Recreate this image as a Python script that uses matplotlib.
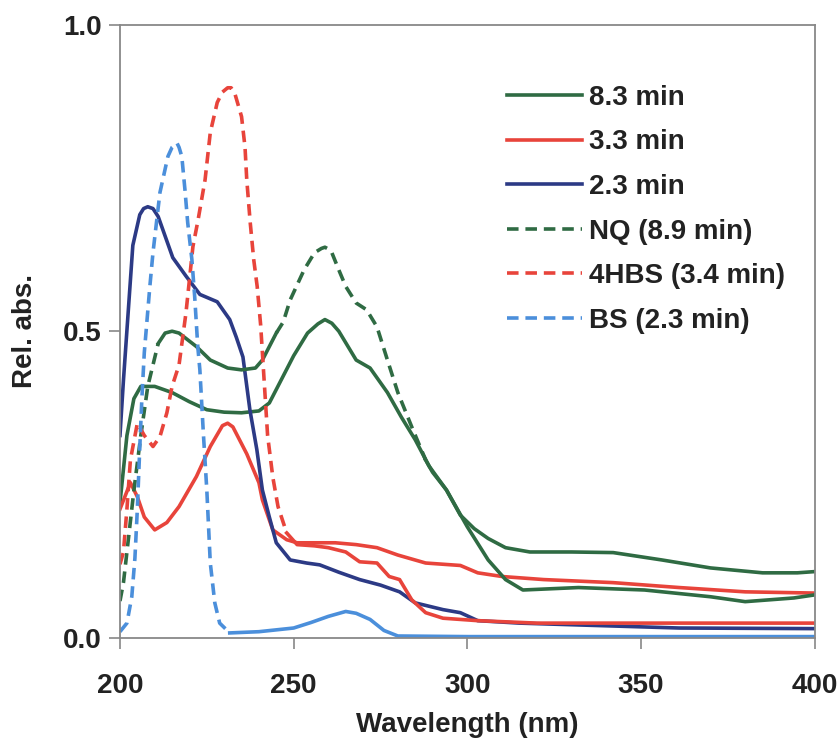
import numpy as np
import matplotlib
matplotlib.use('Agg')
from matplotlib import pyplot as plt
from matplotlib.ticker import FormatStrFormatter

# Sample spectra (solid)
wl_83 = [200, 202, 204, 206, 210, 215, 220, 225, 230, 235, 240, 243, 246, 250, 254, 257, 259, 261, 263,
         268, 272, 277, 281, 285, 289, 294, 298, 302, 306, 311, 318, 330, 342, 356, 370, 385, 395, 400]
abs_83 = [0.22, 0.33, 0.39, 0.41, 0.41, 0.40, 0.385, 0.372, 0.368, 0.367, 0.37, 0.383, 0.416, 0.46, 0.497,
          0.512, 0.519, 0.513, 0.50, 0.453, 0.44, 0.40, 0.36, 0.323, 0.28, 0.241, 0.20, 0.178, 0.162,
          0.147, 0.14, 0.14, 0.139, 0.127, 0.114, 0.106, 0.106, 0.108]

wl_33 = [200, 203, 205, 207, 210, 213.5, 217, 222, 226, 229.5, 231, 232.5, 236.5, 240, 241, 244, 248, 251,
         256, 262, 268, 274, 280, 288, 298, 303, 310, 322, 342, 361, 380, 400]
abs_33 = [0.21, 0.253, 0.23, 0.197, 0.176, 0.188, 0.214, 0.263, 0.312, 0.346, 0.35, 0.344, 0.30, 0.253,
          0.225, 0.176, 0.16, 0.155, 0.155, 0.155, 0.152, 0.147, 0.135, 0.122, 0.118, 0.106, 0.10, 0.095,
          0.09, 0.082, 0.075, 0.073]

wl_23 = [200, 201, 203.7, 205.7, 206.8, 208, 209.5, 211, 215.2, 219, 223, 228, 231.6, 233.5, 235.4, 237.4,
         239.4, 241, 243, 245, 249, 253.7, 257.5, 263, 269, 275, 280.5, 285, 293, 298, 303, 315, 332, 361, 400]
abs_23 = [0.33, 0.42, 0.64, 0.69, 0.70, 0.703, 0.70, 0.687, 0.62, 0.59, 0.56, 0.548, 0.519, 0.49, 0.458,
          0.372, 0.307, 0.241, 0.197, 0.155, 0.127, 0.122, 0.119, 0.107, 0.095, 0.086, 0.075, 0.057, 0.046,
          0.041, 0.028, 0.024, 0.021, 0.016, 0.015]

# Standards (dashed)
wl_nq = [200, 201, 202, 203, 204, 206, 208, 211, 213, 215, 217, 222, 226, 231, 235, 239, 241, 243, 245,
         247, 249, 253, 256, 258, 259, 260, 261, 263, 265, 268, 271, 274, 277, 280, 284, 288, 290, 294, 300,
         306, 311, 316, 332, 351, 370, 380, 394, 400]
abs_nq = [0.06, 0.09, 0.14, 0.19, 0.24, 0.33, 0.41, 0.48, 0.497, 0.50, 0.497, 0.475, 0.453, 0.44, 0.437,
          0.44, 0.453, 0.475, 0.497, 0.515, 0.551, 0.60, 0.628, 0.635, 0.637, 0.634, 0.628, 0.60, 0.573,
          0.546, 0.535, 0.507, 0.453, 0.40, 0.344, 0.29, 0.27, 0.241, 0.181, 0.127, 0.095, 0.078, 0.082,
          0.078, 0.067, 0.059, 0.065, 0.07]

wl_4hbs = [200, 201, 202, 203, 205, 207, 209.5, 211.5, 213.5, 215, 217, 219, 221, 222.5, 224.5, 226, 228,
           229.5, 231, 232, 233, 235, 236, 236.5, 237.5, 238.5, 239.5, 240.5, 241.5, 242.5, 244, 245.5, 248,
           251, 256, 260, 265, 269, 274, 277.5, 280.5, 284, 288, 293, 303, 320, 340, 360, 380, 400]
abs_4hbs = [0.12, 0.14, 0.21, 0.29, 0.35, 0.33, 0.312, 0.328, 0.367, 0.41, 0.445, 0.53, 0.638, 0.682,
            0.747, 0.824, 0.873, 0.89, 0.897, 0.897, 0.889, 0.85, 0.80, 0.747, 0.677, 0.617, 0.573, 0.51,
            0.42, 0.33, 0.262, 0.214, 0.171, 0.152, 0.15, 0.147, 0.14, 0.124, 0.122, 0.10, 0.095, 0.062,
            0.041, 0.032, 0.028, 0.024, 0.024, 0.024, 0.024, 0.024]

wl_bs = [200, 202, 203.4, 204.3, 205, 205.7, 206.3, 207, 208.6, 209.5, 211.5, 213.8, 215, 216.4, 217,
         217.8, 218.7, 219.5, 220.7, 221.5, 222.4, 223, 224, 225, 226, 227.3, 228.7, 231.6, 240, 250, 255,
         260, 265, 268, 272, 276, 280, 300, 400]
abs_bs = [0.01, 0.024, 0.067, 0.13, 0.21, 0.31, 0.39, 0.465, 0.573, 0.628, 0.726, 0.785, 0.80, 0.807,
          0.80, 0.785, 0.731, 0.677, 0.617, 0.557, 0.475, 0.437, 0.334, 0.241, 0.122, 0.057, 0.024, 0.008,
          0.01, 0.016, 0.025, 0.035, 0.043, 0.04, 0.03, 0.012, 0.003, 0.002, 0.002]

GREEN = '#2f6b43'
RED = '#e8443b'
NAVY = '#2c3a85'
LBLUE = '#4b8fdb'
TEXT = '#222222'
LW = 2.6
DASH = (3.2, 1.9)

plt.rcParams['font.family'] = ['Liberation Sans', 'DejaVu Sans']
plt.rcParams['font.weight'] = 'bold'


def draw(ax, x, y, color, label, dashed_ranges=None):
    x = np.asarray(x, float)
    y = np.asarray(y, float)
    kw = dict(color=color, lw=LW, solid_joinstyle='round', dash_joinstyle='round')
    if not dashed_ranges:
        ax.plot(x, y, label=label, **kw)
        return
    # excel-like look: steep parts dashed, flat parts look solid
    in_dash = np.zeros(len(x), bool)
    inside = np.zeros(len(x), bool)
    for lo, hi in dashed_ranges:
        in_dash |= (x >= lo) & (x <= hi)
        inside |= (x > lo) & (x < hi)
    ax.plot(x, np.where(in_dash, y, np.nan), dashes=DASH, label=label, **kw)
    ax.plot(x, np.where(~inside, y, np.nan), **kw)


fig = plt.figure(figsize=(8.39, 7.46), dpi=100)
ax = fig.add_axes([0.143, 0.145, 0.828, 0.822])

draw(ax, wl_83, abs_83, GREEN, '8.3 min')
draw(ax, wl_33, abs_33, RED, '3.3 min')
draw(ax, wl_23, abs_23, NAVY, '2.3 min')
draw(ax, wl_nq, abs_nq, GREEN, 'NQ (8.9 min)', [(200, 211), (245, 288)])
draw(ax, wl_4hbs, abs_4hbs, RED, '4HBS (3.4 min)', [(200, 248)])
draw(ax, wl_bs, abs_bs, LBLUE, 'BS (2.3 min)', [(200, 231.6)])

ax.set_xlim(200, 400)
ax.set_ylim(0, 1.0)
ax.set_xticks([200, 250, 300, 350, 400])
ax.set_yticks([0, 0.5, 1.0])
ax.yaxis.set_major_formatter(FormatStrFormatter('%.1f'))
ax.tick_params(direction='out', length=8, width=1.2, color='#888888', labelsize=20,
               labelcolor=TEXT)
ax.tick_params(axis='x', pad=17)
ax.tick_params(axis='y', pad=5)
for sp in ax.spines.values():
    sp.set_color('#888888')
    sp.set_linewidth(1.3)

ax.set_xlabel('Wavelength (nm)', fontsize=20, fontweight='bold', color=TEXT, labelpad=10)
ax.set_ylabel('Rel. abs.', fontsize=20, fontweight='bold', color=TEXT, labelpad=18)

ax.legend(loc='upper left', bbox_to_anchor=(0.557, 0.902), frameon=False, fontsize=20,
          handlelength=2.7, handletextpad=0.25, labelspacing=0.67, borderpad=0,
          borderaxespad=0, labelcolor=TEXT)

fig.savefig('out.png', dpi=100)
